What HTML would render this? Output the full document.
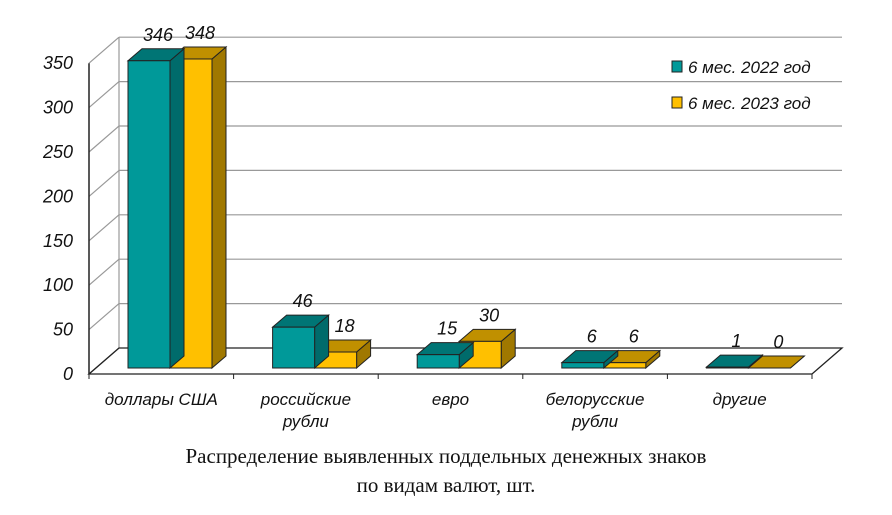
<!DOCTYPE html>
<html><head><meta charset="utf-8"><style>
body{margin:0;background:#fff;width:892px;height:510px;overflow:hidden}
svg text{font-family:"Liberation Sans",sans-serif;font-style:italic}
</style></head><body>
<svg id="c" width="892" height="510" xmlns="http://www.w3.org/2000/svg"></svg>
<script>
const categories=[["доллары США"],["российские","рубли"],["евро"],["белорусские","рубли"],["другие"]];
const series2022=[346,46,15,6,1];
const series2023=[348,18,30,6,0];
const yTicks=[0,50,100,150,200,250,300,350];
const seriesNames=["6 мес. 2022 год","6 мес. 2023 год"];
const NS="http://www.w3.org/2000/svg";
const svg=document.getElementById('c');
function el(t,a,p){const e=document.createElementNS(NS,t);for(const k in a)e.setAttribute(k,a[k]);(p||svg).appendChild(e);return e;}
const X0=89,X1=812,Y0=374,PX=44.4/50,DX=30,DY=-26;
function y(v){return Y0-v*PX;}
const g=el('g',{});

yTicks.forEach(v=>{
 const yy=y(v);
 const l=el('line',{x1:X0,y1:yy,x2:X0+DX,y2:yy+DY,stroke:'#999','stroke-width':1.2},g);
 
 if(v>0){const h=el('line',{x1:X0+DX,y1:yy+DY,x2:X1+DX,y2:yy+DY,stroke:'#999','stroke-width':1.2},g);
 }
 const t=el('text',{x:73,y:yy+6,'text-anchor':'end','font-size':18,fill:'#111'});
 t.textContent=v;
});
const back=el('line',{x1:X0+DX,y1:Y0+DY,x2:X0+DX,y2:y(350)+DY,stroke:'#999','stroke-width':1.2});

const floor=el('polygon',{points:`${X0},${Y0} ${X1},${Y0} ${X1+DX},${Y0+DY} ${X0+DX},${Y0+DY}`,fill:'none',stroke:'#222','stroke-width':1.3});

const ax=el('line',{x1:X0,y1:Y0,x2:X0,y2:y(350),stroke:'#222','stroke-width':1.5});

const cw=(X1-X0)/categories.length;
for(let i=0;i<=categories.length;i++){const t=el('line',{x1:X0+i*cw,y1:Y0,x2:X0+i*cw,y2:Y0+5,stroke:'#222'});
}
const colors=[{f:'#009999',t:'#007575',s:'#006b6b'},{f:'#FFC000',t:'#C09000',s:'#A07800'}];
const BW=42,BDX=14,BDY=-12,OX=7,OY=-6;
function bar(x,v,c,name){
 const x0=x+OX,yb=Y0+OY,yt=yb-v*PX,gg=el('g',{});
 
 el('polygon',{points:`${x0+BW},${yb} ${x0+BW+BDX},${yb+BDY} ${x0+BW+BDX},${yt+BDY} ${x0+BW},${yt}`,fill:c.s,stroke:'#222','stroke-width':1},gg);
 el('polygon',{points:`${x0},${yt} ${x0+BDX},${yt+BDY} ${x0+BW+BDX},${yt+BDY} ${x0+BW},${yt}`,fill:c.t,stroke:'#222','stroke-width':1},gg);
 if(v>0)el('rect',{x:x0,y:yt,width:BW,height:yb-yt,fill:c.f,stroke:'#222','stroke-width':1},gg);
 const t=el('text',{x:x0+BW/2+BDX/2+2,y:yt+BDY-8,'text-anchor':'middle','font-size':18,fill:'#111'});
 t.textContent=v;
}
categories.forEach((lab,i)=>{
 const cx=X0+i*cw+32;
 bar(cx+BW,series2023[i],colors[1],'bar-2023-'+i);
 bar(cx,series2022[i],colors[0],'bar-2022-'+i);
 lab.forEach((ln,j)=>{const t=el('text',{x:X0+i*cw+cw/2,y:405+j*22,'text-anchor':'middle','font-size':17,fill:'#111'});
 t.textContent=ln;});
});
const lg=el('g',{});
seriesNames.forEach((n,i)=>{
 const yy=67+i*36;
 const r=el('rect',{x:672,y:yy-6,width:10,height:11,fill:colors[i].f,stroke:'#222'},lg);
 
 const t=el('text',{x:688,y:yy+6,'font-size':17,fill:'#111'},lg);t.textContent=n;
 
});
["Распределение выявленных поддельных денежных знаков","по видам валют, шт."].forEach((s,i)=>{
 const t=el('text',{x:446,y:463+i*29,'text-anchor':'middle','font-size':21,fill:'#111',style:'font-family:"Liberation Serif",serif;font-style:normal'});
 t.textContent=s;
});
</script>
</body></html>
